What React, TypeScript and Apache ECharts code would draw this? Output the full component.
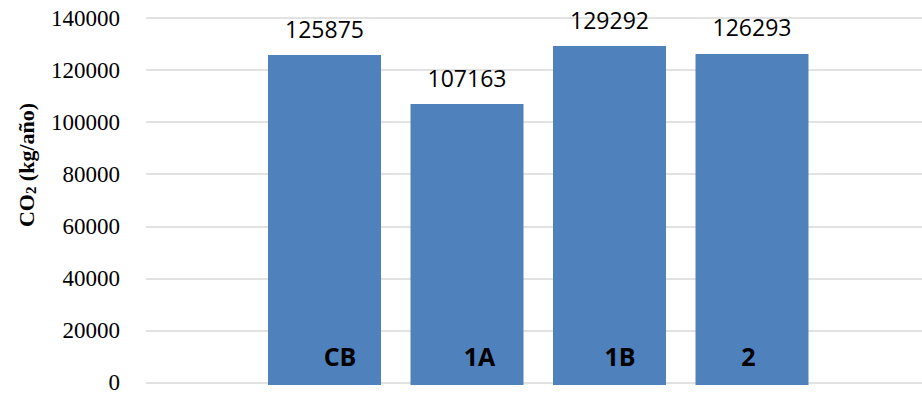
import React, { useEffect, useRef } from "react";
import * as echarts from "echarts";

// Annual CO2 emissions per scenario
const categories = ["CB", "1A", "1B", "2"];
const emissions = [125875, 107163, 129292, 126293];
const yMin = 0;
const yMax = 140000;
const yStep = 20000;
// horizontal nudge (px of left/right padding) for the in-bar scenario labels
const labelShiftLeft = [31, 25, 21, 0];
const labelShiftRight = [0, 0, 0, 7];

const SERIF = "'Liberation Serif', 'Times New Roman', serif";
const SANS = "'Open Sans', sans-serif";

export default function App() {
  const ref = useRef<HTMLDivElement>(null);

  useEffect(() => {
    if (!ref.current) return;
    const chart = echarts.init(ref.current, null, { renderer: "svg" });

    const rich: Record<string, any> = {};
    categories.forEach((_, i) => {
      rich["c" + i] = {
        fontFamily: SANS,
        fontWeight: "bold",
        fontSize: 25,
        color: "#000",
        padding: [0, labelShiftRight[i], 0, labelShiftLeft[i]],
      };
    });

    chart.setOption({
      animation: false,
      backgroundColor: "#fff",
      grid: [
        { left: 146, right: 0, top: 18, bottom: 9 },
        { left: 253.25, right: 98.75, top: 18, bottom: 9 },
      ],
      xAxis: [
        { gridIndex: 0, type: "category", data: [""], show: false },
        {
          gridIndex: 1,
          type: "category",
          data: categories,
          z: 10,
          axisLine: { show: false },
          axisTick: { show: false },
          axisLabel: {
            inside: true,
            margin: 17,
            formatter: (v: string, i: number) => `{c${i}|${v}}`,
            rich,
          },
        },
      ],
      yAxis: [
        {
          gridIndex: 0,
          type: "value",
          min: yMin,
          max: yMax,
          interval: yStep,
          axisLine: { show: false },
          axisTick: { show: false },
          axisLabel: {
            margin: 26,
            fontFamily: SERIF,
            fontSize: 23,
            color: "#000",
            formatter: (v: number) => String(v),
          },
          splitLine: { lineStyle: { color: "#d9d9d9", width: 1.5 } },
        },
        {
          gridIndex: 1,
          type: "value",
          min: yMin,
          max: yMax,
          interval: yStep,
          show: false,
          splitLine: { show: false },
        },
      ],
      series: [
        {
          type: "bar",
          xAxisIndex: 1,
          yAxisIndex: 1,
          data: emissions,
          barWidth: 113,
          itemStyle: { color: "#4F81BD" },
          label: {
            show: true,
            position: "top",
            distance: 15,
            fontFamily: SANS,
            fontSize: 23,
            color: "#000",
          },
        },
      ],
      graphic: [
        {
          type: "text",
          x: 26,
          y: 165,
          rotation: Math.PI / 2,
          style: {
            text: "{a|CO}{s|2}{a| (kg/año)}",
            align: "center",
            verticalAlign: "middle",
            rich: {
              a: {
                fontFamily: SERIF,
                fontWeight: "bold",
                fontSize: 22,
                lineHeight: 24,
                fill: "#000",
              },
              s: {
                fontFamily: SERIF,
                fontWeight: "bold",
                fontSize: 15,
                lineHeight: 14,
                verticalAlign: "bottom",
                fill: "#000",
              },
            },
          },
        },
      ],
    });

    return () => chart.dispose();
  }, []);

  return (
    <div
      ref={ref}
      style={{ position: "fixed", left: 0, top: 0, width: 922, height: 394 }}
    />
  );
}
